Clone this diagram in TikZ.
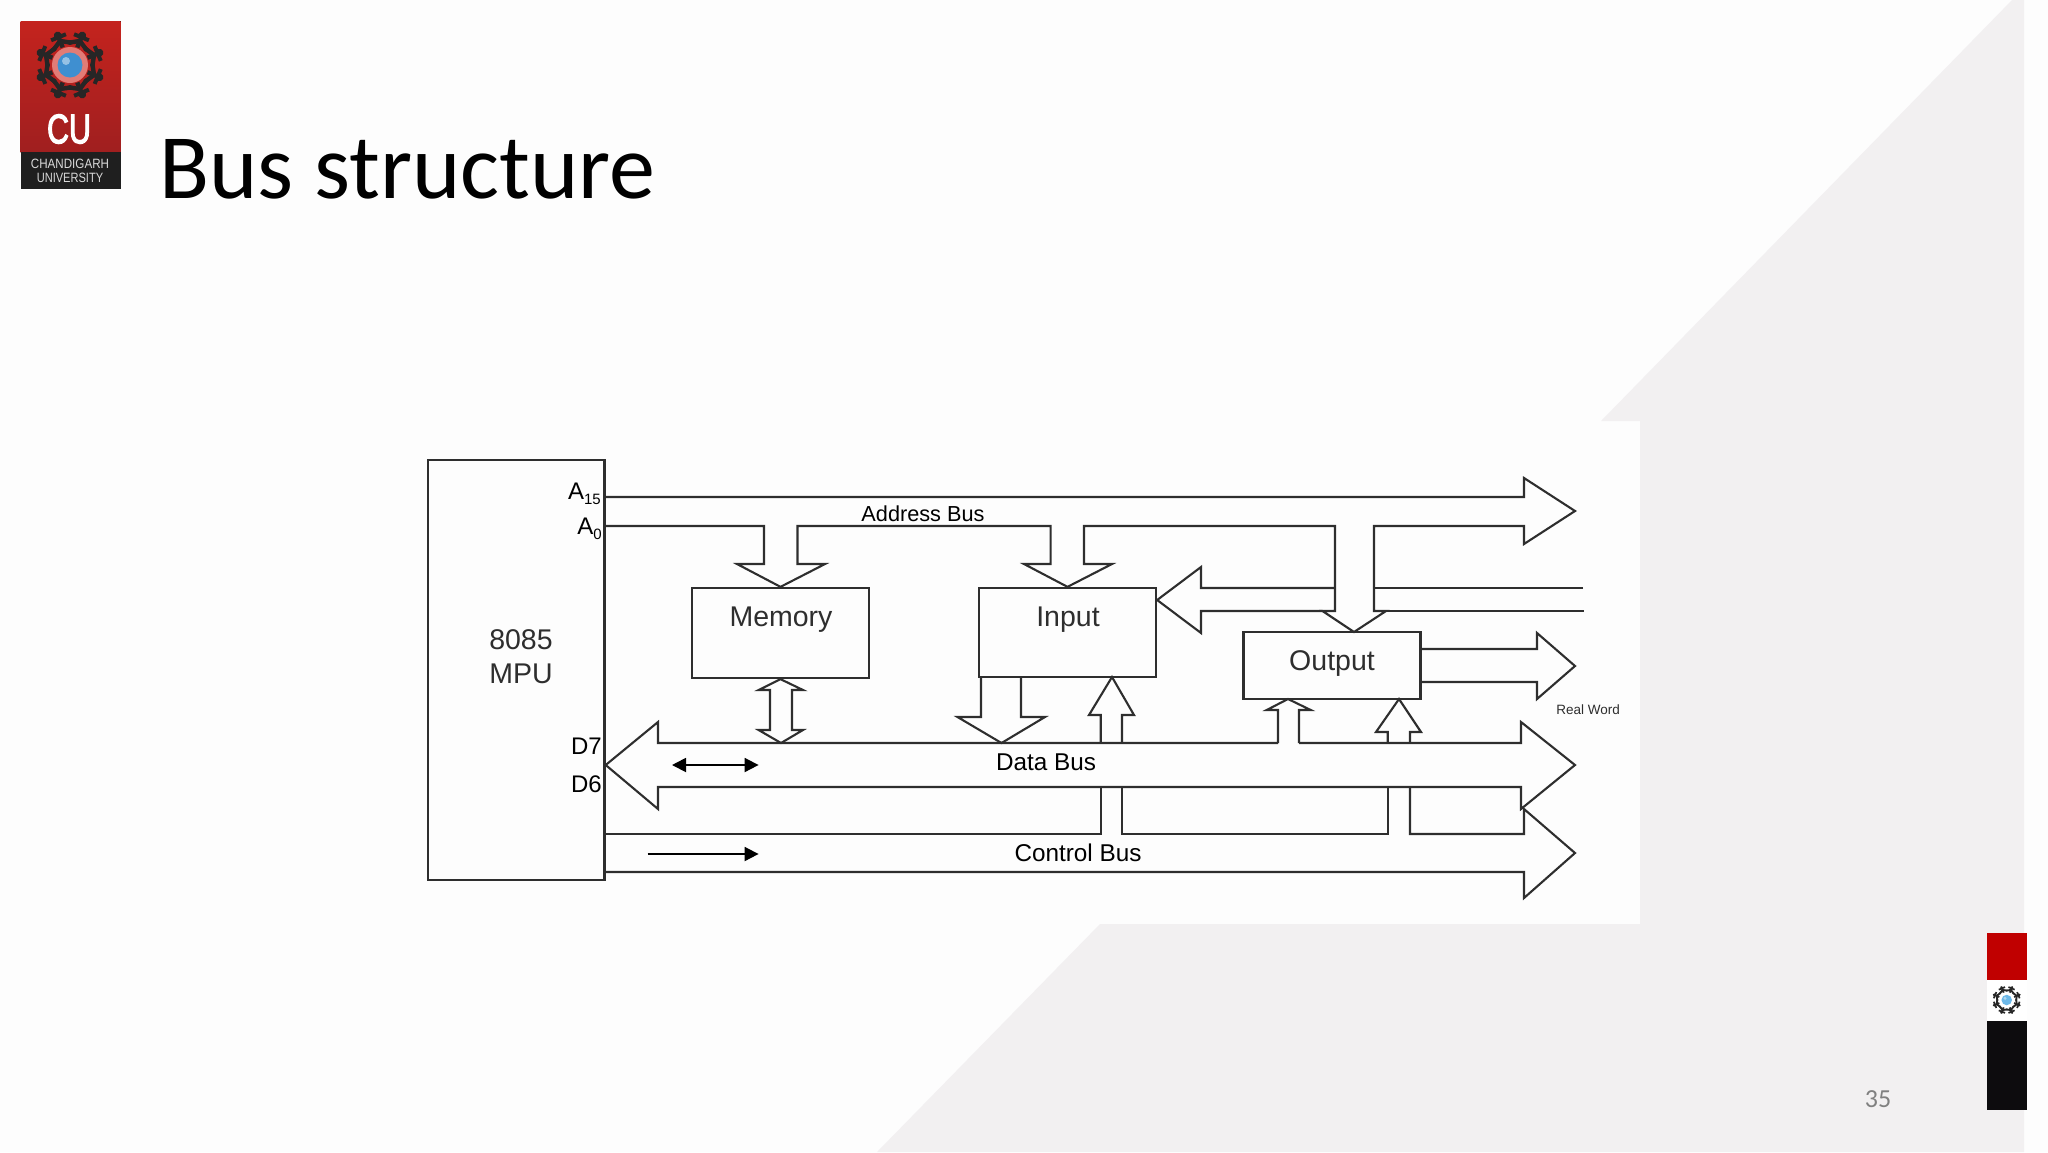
\documentclass[tikz,border=0pt]{standalone}
\usepackage{fontspec}
\usepackage{xcolor}
\usepackage{tikz}
\usetikzlibrary{arrows.meta}
\setmainfont{Liberation Sans}
\newfontfamily\slidefont{Carlito}
\newfontfamily\logobold[FakeBold=3]{Liberation Sans}

\definecolor{pagewhite}{HTML}{FDFDFD}
\definecolor{panelgray}{HTML}{F2F0F1}
\definecolor{inkgray}{HTML}{2E2E2E}
\definecolor{logored}{HTML}{C4231E}
\definecolor{logodark}{HTML}{A01F1F}
\definecolor{logohalo}{HTML}{E27C76}
\definecolor{stripblack}{HTML}{0D0C0E}
\definecolor{stripred}{HTML}{C00000}
\definecolor{globeblue}{HTML}{3F8FD0}
\definecolor{globepale}{HTML}{6CB8E8}

\tikzset{
    busline/.style={draw=inkgray, line width=2.1pt, line join=miter},
    unitbox/.style={draw=inkgray, line width=2.3pt, fill=none, inner sep=0pt},
    unittext/.style={font=\fontsize{28.5}{34}\selectfont, text=inkgray, inner sep=0pt, anchor=base},
    bustext/.style={font=\fontsize{24.3}{28}\selectfont, text=black, inner sep=0pt, anchor=base},
    pintext/.style={font=\fontsize{24}{28}\selectfont, text=black, inner sep=0pt, anchor=base east},
    flowarrow/.style={draw=black, line width=1.8pt},
}

\newcommand{\pinsub}[1]{\raisebox{-5pt}{\fontsize{15}{15}\selectfont #1}}
\newcommand{\cugear}[5]{%
    \begin{scope}[shift={(#1,#2)}, scale=#3]
        \fill[#4] (0,0) circle (18);
        \foreach \a in {22.5,67.5,...,337.5}{
            \begin{scope}[rotate=\a]
                \fill[black!85] (0,-32) circle (3.8);
                \draw[black!85, line width=#3*4.4pt] (0,-32) -- (0,-19);
                \draw[black!85, line width=#3*4pt] (-8,-30) -- (8,-30);
                \draw[black!85, line width=#3*4.4pt] (-10,-20) -- (0,-26) -- (10,-20);
            \end{scope}
        }
        \fill[#5] (0,0) circle (12.5);
        \fill[#5!55!white] (-4,-4) circle (4);
    \end{scope}
}

\begin{document}
\begin{tikzpicture}[x=1pt, y=-1pt]
    \useasboundingbox (0,0) rectangle (2048,1152);
    \fill[pagewhite] (0,0) rectangle (2048,1152);
    \fill[panelgray] (2012,0) -- (2024,0) -- (2024,1152) -- (877,1152) -- (1100,924)
        -- (1640,924) -- (1640,421) -- (1601,421) -- cycle;

    % logo
    \fill[top color=logored, bottom color=logodark] (20.5,21) rectangle (120.5,152);
    \fill[black!88] (20.5,152) rectangle (120.5,189);
    \cugear{70}{65}{1}{logohalo}{globeblue}
    \node[inner sep=0pt, text=white] (logocu) at (69,129)
        {\scalebox{.82}[1.12]{\logobold\fontsize{37}{37}\selectfont CU}};
    \node[inner sep=0pt, text=white!85!black] (logoname) at (70,164)
        {\scalebox{.86}[1]{\fontsize{13.5}{14}\selectfont CHANDIGARH}};
    \node[inner sep=0pt, text=white!85!black] (logouni) at (70,178)
        {\scalebox{.82}[1]{\fontsize{13.5}{14}\selectfont UNIVERSITY}};

    % title
    \node[inner sep=0pt, anchor=base west, text=black] (title) at (159,198)
        {\slidefont\fontsize{92}{92}\selectfont Bus structure};

    % units
    \node[unitbox, minimum width=176.7pt, minimum height=420pt] (mpu) at (516.2,670) {};
    \node[unitbox, minimum width=177pt, minimum height=90pt] (memory) at (780.5,633) {};
    \node[unitbox, minimum width=177pt, minimum height=89pt] (input) at (1067.5,632.5) {};
    \node[unitbox, minimum width=177pt, minimum height=67pt] (output) at (1332,665.5) {};

    \node[unittext, align=center] (mpulabel) at (521,683) {8085\\MPU};
    \foreach \x/\y/\name/\txt in {
        781/626/memorylabel/Memory,
        1068/626/inputlabel/Input,
        1332/670/outputlabel/Output
    }{
        \node[unittext] (\name) at (\x,\y) {\txt};
    }

    % pins
    \node[pintext] (pina15) at (601,499) {A\pinsub{15}};
    \node[pintext] (pina0) at (602,534) {A\pinsub{0}};
    \node[pintext] (pind7) at (602,754) {D7};
    \node[pintext] (pind6) at (602,792) {D6};

    % bus names
    \foreach \x/\y/\name/\txt in {
        1046/770/datalabel/Data Bus,
        1078/861/controllabel/Control Bus
    }{
        \node[bustext] (\name) at (\x,\y) {\txt};
    }
    \node[bustext, font=\fontsize{21.7}{26}\selectfont] (addresslabel) at (923,521) {Address Bus};
    \node[inner sep=0pt, anchor=base, text=inkgray, font=\fontsize{13.5}{14}\selectfont] (realword) at (1588,714) {Real Word};

    % address bus with its branches
    \coordinate (outputtip) at (1354,632);
    \draw[busline] (mpu.east |- 0,497) -- (1524,497) -- (1524,478) -- (1575,511) -- (1524,544) -- (1524,526)
        -- (1374,526) -- (1374,611) -- (1386,611) -- (outputtip) -- (1322.5,611) -- (1335,611) -- (1335,526)
        -- (1084,526) -- (1084,564) -- (1112,564) -- (input.north) -- (1024,564) -- (1050.6,564) -- (1050.6,526)
        -- (797.5,526) -- (797.5,564) -- (825,564) -- (memory.north) -- (737,564) -- (764,564) -- (764,526)
        -- (mpu.east |- 0,526);

    % feed into input, cut by the branch to output
    \draw[busline] (1583,588) -- (1374,588);
    \draw[busline] (1335,588) -- (1201,588) -- (1201,567) -- (input.east |- 0,600) -- (1201,633) -- (1201,611) -- (1322.5,611);
    \draw[busline] (1386,611) -- (1584,611);

    % output to the right
    \draw[busline] (output.east |- 0,649) -- (1537,649) -- (1537,633) -- (1575,666) -- (1537,699) -- (1537,682) -- (output.east |- 0,682);

    % data bus
    \draw[busline] (1278,743) -- (658,743) -- (658,722) -- (mpu.east |- 0,765) -- (658,809) -- (658,787) -- (1521,787)
        -- (1521,809) -- (1575,765) -- (1521,722) -- (1521,743) -- (1299,743);

    % memory and data bus
    \coordinate (memorytip) at (781,743);
    \draw[busline, fill=none] (memory.south) -- (803,690) -- (792,690) -- (792,730) -- (803,730) -- (memorytip)
        -- (758.6,730) -- (770,730) -- (770,690) -- (758.6,690) -- cycle;

    % input and data bus
    \coordinate (inputdowntip) at (1001.5,743);
    \coordinate (inputuptip) at (1112,677);
    \draw[busline] (1021,677) -- (1021,717) -- (1045,717) -- (inputdowntip) -- (957.5,717) -- (981,717) -- (981,677);
    \draw[busline] (1100.7,743) -- (1100.7,715) -- (1089,715) -- (inputuptip) -- (1134,715) -- (1122,715) -- (1122,743);

    % output and data bus
    \coordinate (outleft) at (1288,699);
    \coordinate (outright) at (1399,699);
    \draw[busline] (1278,743) -- (1278,710) -- (1266.7,710) -- (outleft) -- (1310.7,710) -- (1299,710) -- (1299,743);
    \draw[busline] (1387.7,743) -- (1387.7,732) -- (1376,732) -- (outright) -- (1421,732) -- (1410,732) -- (1410,743);

    % control bus
    \draw[busline] (mpu.east |- 0,834) -- (1100.7,834) -- (1100.7,787);
    \draw[busline] (1122,787) -- (1122,834) -- (1387.7,834) -- (1387.7,787);
    \draw[busline] (1410,787) -- (1410,834) -- (1524,834) -- (1524,809) -- (1575,853) -- (1524,898) -- (1524,872) -- (mpu.east |- 0,872);

    % direction marks
    \coordinate (dataleft) at (672,765);
    \coordinate (dataright) at (758.6,765);
    \coordinate (controlleft) at (647.5,854);
    \coordinate (controlright) at (758.6,854);
    \draw[flowarrow, {Triangle[length=14pt,width=14pt]}-{Triangle[length=14pt,width=14pt]}] (dataleft) -- (dataright);
    \draw[flowarrow, -{Triangle[length=14pt,width=14pt]}] (controlleft) -- (controlright);

    % side strip
    \fill[stripred] (1987,933) rectangle (2027,980);
    \fill[white] (1987,980) rectangle (2027,1021);
    \fill[stripblack] (1987,1021) rectangle (2027,1110);
    \cugear{2006.7}{1000}{.42}{white}{globepale}

    \node[inner sep=0pt, text=black!50, font=\slidefont\fontsize{26}{26}\selectfont] (pagenum) at (1878,1099) {35};
\end{tikzpicture}
\end{document}
